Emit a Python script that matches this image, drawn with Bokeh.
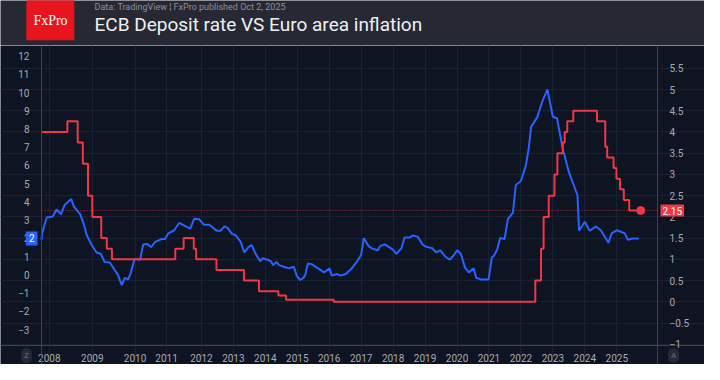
import numpy as np
from bokeh.plotting import figure
from bokeh.models import (Range1d, LinearAxis, FixedTicker, Label,
                          CustomJSTickFormatter)
from bokeh.layouts import column
from bokeh.core.properties import value
from bokeh.embed import file_html
from bokeh.resources import INLINE

# ---------------- texts ----------------
TITLE = "ECB Deposit rate VS Euro area inflation"
SUBTITLE = "Data: TradingView  \u00a6  FxPro published Oct 2,  2025"
LOGO = "FxPro"

# ---------------- time scale ----------------
years = list(range(2008, 2026))
# TradingView index-based time scale: relative width of each calendar year
year_widths = [1.345, 1.337, 0.988, 1.091] + [1.0] * 14
view_start, view_end = 2007.818, 2026.275

# ---------------- Euro area inflation (left axis, %) ----------------
infl_dates = [
    2007.818, 2007.83, 2007.94,
    2008.08, 2008.17, 2008.27, 2008.36, 2008.51, 2008.57, 2008.72, 2008.80, 2008.87, 2008.98,
    2009.10, 2009.20, 2009.29, 2009.41, 2009.52, 2009.60, 2009.69, 2009.76, 2009.84, 2009.90, 2009.99,
    2010.16, 2010.26, 2010.38, 2010.51, 2010.64, 2010.85, 2010.95,
    2011.05, 2011.22, 2011.36, 2011.47, 2011.68, 2011.79, 2011.93,
    2012.08, 2012.24, 2012.34, 2012.47, 2012.60, 2012.72, 2012.82, 2012.96,
    2013.06, 2013.23, 2013.34, 2013.46, 2013.57, 2013.69, 2013.84, 2013.92,
    2014.07, 2014.17, 2014.25, 2014.35, 2014.43, 2014.58, 2014.73, 2014.89, 2014.99,
    2015.09, 2015.19, 2015.25, 2015.33, 2015.45, 2015.65, 2015.84,
    2016.01, 2016.08, 2016.24, 2016.36, 2016.52, 2016.69, 2016.87,
    2017.00, 2017.08, 2017.23, 2017.35, 2017.52, 2017.59, 2017.74, 2017.90,
    2018.00, 2018.10, 2018.26, 2018.36, 2018.51, 2018.61, 2018.77, 2018.92,
    2019.02, 2019.23, 2019.35, 2019.48, 2019.63, 2019.77, 2019.89,
    2020.01, 2020.12, 2020.25, 2020.37, 2020.52, 2020.60, 2020.76, 2020.99,
    2021.09, 2021.16, 2021.26, 2021.35, 2021.49, 2021.59, 2021.75, 2021.84,
    2022.00, 2022.15, 2022.24, 2022.32, 2022.51, 2022.67, 2022.83,
    2023.00, 2023.13, 2023.31, 2023.51, 2023.66, 2023.77, 2023.82,
    2024.00, 2024.15, 2024.35, 2024.50, 2024.74, 2024.84,
    2025.01, 2025.25, 2025.35, 2025.50, 2025.69,
]
infl_values = [
    1.9, 2.28, 3.15,
    3.2, 3.59, 3.32, 3.85, 4.16, 3.76, 3.32, 2.8, 2.19, 1.67,
    1.23, 1.15, 0.71, 0.68, 0.28, 0.0, -0.56, -0.16, -0.25, 0.1, 0.88,
    0.83, 1.67, 1.7, 1.53, 1.81, 1.97, 1.97,
    2.28, 2.45, 2.85, 2.75, 2.54, 3.08, 3.06,
    2.75, 2.75, 2.63, 2.42, 2.42, 2.66, 2.58, 2.24,
    2.19, 1.81, 1.23, 1.5, 1.64, 1.18, 0.75, 0.92,
    0.83, 0.75, 0.54, 0.71, 0.54, 0.45, 0.36, 0.45, -0.07,
    -0.28, -0.16, 0.0, 0.62, 0.59, 0.36, 0.14,
    0.36, -0.04, 0.05, -0.04, 0.05, 0.33, 0.73,
    1.11, 2.02, 1.58, 1.44, 1.35, 1.58, 1.67, 1.5,
    1.37, 1.15, 1.46, 2.05, 2.05, 2.16, 2.1, 1.67,
    1.55, 1.46, 1.23, 1.35, 1.01, 0.83, 1.06,
    1.35, 1.15, 0.4, 0.14, 0.36, -0.16, -0.25, -0.25,
    0.97, 1.06, 1.41, 2.02, 1.97, 3.06, 3.41, 4.93,
    5.15, 5.97, 6.9, 8.12, 8.64, 9.51, 10.17,
    8.67, 8.59, 6.9, 5.59, 4.89, 4.37, 2.42,
    2.92, 2.42, 2.66, 2.45, 1.76, 2.28,
    2.45, 2.28, 1.93, 2.0, 2.0,
]

# ---------------- ECB rate (right axis, %) : change dates and new levels ----------------
rate_dates = [2007.818, 2008.42, 2008.66, 2008.78, 2008.90, 2009.00, 2009.21, 2009.34, 2009.46,
              2011.25, 2011.49, 2011.78, 2011.85, 2012.47, 2013.33, 2013.80, 2014.41, 2014.65,
              2016.14, 2022.45, 2022.63, 2022.71, 2022.87, 2023.05, 2023.14, 2023.31, 2023.37,
              2023.45, 2023.64, 2024.38, 2024.64, 2024.70, 2024.90, 2024.99, 2025.10, 2025.22,
              2025.39]
rate_values = [4.0, 4.25, 3.75, 3.25, 2.5, 2.0, 1.5, 1.25, 1.0,
               1.25, 1.5, 1.25, 1.0, 0.75, 0.5, 0.25, 0.15, 0.05,
               0.0, 0.5, 1.25, 2.0, 2.5, 3.0, 3.5, 3.75, 4.0,
               4.25, 4.5, 4.25, 3.65, 3.40, 3.15, 2.90, 2.65, 2.40,
               2.15]
rate_last_date = 2025.75

left_ticks = list(range(-3, 13))
right_ticks = [-1.0, -0.5, 0.0, 0.5, 1.0, 1.5, 2.0, 2.5, 3.0, 3.5, 4.0, 4.5, 5.0, 5.5]

# ---------------- style ----------------
BG = "#0e1422"
HDR = "#262934"
BLUE = "#2962ff"
RED = "#f23645"
GRID = "#1a2130"
AXIS = "#3d414d"
LBL = "#a7aab3"
FONT = "Roboto"

# ---------------- warped time scale ----------------
pos = [0.0] + list(np.cumsum(year_widths[:-1]))
knot_years = [2007] + years + [2026, 2027]
knot_pos = [-year_widths[0]] + pos + [pos[-1] + year_widths[-1], pos[-1] + 2 * year_widths[-1]]


def warp(t):
    return np.interp(np.asarray(t, dtype=float), knot_years, knot_pos)


tick_pos = [round(float(v), 4) for v in warp(years)]

# value ranges of the plotting area
L0, L1 = -3.87, 12.47
R0, R1 = -1.03, 5.99

# figure geometry (px): plotting area inside a frame that also holds the price/time scales
FIG_W, FIG_H = 704, 319
PAD_L, PAD_R, PAD_T, PAD_B = 41, 47, 2, 19
AREA_W, AREA_H = FIG_W - PAD_L - PAD_R, FIG_H - PAD_T - PAD_B

x_lo, x_hi = float(warp(view_start)), float(warp(view_end))
ux = (x_hi - x_lo) / AREA_W
uy = (L1 - L0) / AREA_H
ur = (R1 - R0) / AREA_H

p = figure(width=FIG_W, height=FIG_H,
           x_range=Range1d(x_lo - PAD_L * ux, x_hi + PAD_R * ux),
           y_range=Range1d(L0 - PAD_B * uy, L1 + PAD_T * uy),
           output_backend="svg", toolbar_location=None, min_border=0,
           background_fill_color=BG, border_fill_color=BG, outline_line_color=None)
p.extra_y_ranges = {"right": Range1d(R0 - PAD_B * ur, R1 + PAD_T * ur)}

# time scale
xa = p.xaxis[0]
xa.fixed_location = L0
xa.ticker = FixedTicker(ticks=tick_pos)
xa.formatter = CustomJSTickFormatter(args=dict(pos=tick_pos, labels=[str(y) for y in years]), code="""
    for (let i = 0; i < pos.length; i++) { if (Math.abs(pos[i] - tick) < 1e-6) return labels[i]; }
    return '';
""")

# left price scale (inflation)
ya = p.yaxis[0]
ya.fixed_location = x_lo
ya.ticker = FixedTicker(ticks=left_ticks)
ya.formatter = CustomJSTickFormatter(code="""
    return tick < 0 ? '\\u2212' + String(Math.abs(tick)) : String(tick);
""")

# right price scale (ECB rate)
ra = LinearAxis(y_range_name="right", fixed_location=x_hi)
ra.ticker = FixedTicker(ticks=right_ticks)
ra.formatter = CustomJSTickFormatter(code="""
    return tick < 0 ? '\\u2212' + String(Math.abs(tick)) : String(tick);
""")
p.add_layout(ra, "right")

for ax in [xa, ya, ra]:
    ax.axis_line_color = AXIS
    ax.axis_line_width = 1
    ax.major_tick_line_color = None
    ax.minor_tick_line_color = None
    ax.major_label_text_color = LBL
    ax.major_label_text_font = FONT
    ax.major_label_text_font_size = "10px"
    ax.major_label_standoff = 6
xa.major_label_standoff = 2

p.xgrid.grid_line_color = GRID
p.xgrid.bounds = (L0, L1)
p.ygrid.grid_line_color = GRID
p.ygrid.bounds = (x_lo, x_hi)
p.ygrid.ticker = FixedTicker(ticks=[L0 + (v - R0) * (L1 - L0) / (R1 - R0) for v in right_ticks])

# dotted line at the latest rate level
p.segment(x0=[x_lo], x1=[x_hi], y0=[rate_values[-1]], y1=[rate_values[-1]],
          y_range_name="right", line_color=RED, line_alpha=0.75, line_width=1, line_dash="1 2")

# series
p.line(warp(infl_dates), infl_values, line_color=BLUE, line_width=2)
p.step(warp(rate_dates + [rate_last_date]), rate_values + [rate_values[-1]], mode="after",
       y_range_name="right", line_color=RED, line_width=2)
p.scatter([float(warp(rate_last_date))], [rate_values[-1]], y_range_name="right",
          size=8, color=RED)

# last-value badges on the price scales
p.add_layout(Label(x=x_lo, y=infl_values[-1], x_offset=-4, text="%g" % infl_values[-1],
                   text_align="right", text_baseline="middle", text_color="white",
                   text_font=FONT, text_font_size="10px",
                   background_fill_color=BLUE, padding=3))
p.add_layout(Label(x=x_hi, y=rate_values[-1], x_offset=3, y_range_name="right",
                   text="%.2f" % rate_values[-1], text_align="left", text_baseline="middle",
                   text_color="white", text_font=FONT, text_font_size="10px",
                   background_fill_color=RED, padding=2))
for bx, bt in [(PAD_L - 15, "Z"), (PAD_L + AREA_W + 16, "A")]:
    p.add_layout(Label(x=bx, y=PAD_B - 10, x_units="screen", y_units="screen", text=bt,
                       text_align="center", text_baseline="middle", text_color="#6f7380",
                       text_font=FONT, text_font_size="8px",
                       background_fill_color="#262a35", padding=3, border_radius=7))

# ---------------- header ----------------
h = figure(width=FIG_W, height=45, x_range=Range1d(0, FIG_W), y_range=Range1d(0, 45),
           output_backend="svg", toolbar_location=None, min_border=0,
           x_axis_type=None, y_axis_type=None,
           background_fill_color=HDR, border_fill_color=HDR, outline_line_color=None)
h.grid.visible = False
h.quad(left=[26.4], right=[73.3], bottom=[5.7], top=[45], color="#e8161c")
h.text(x=[50], y=[25.5], text=[LOGO], text_align="center", text_baseline="middle",
       text_color="white", text_font=value("Liberation Serif"), text_font_size="14px")
h.text(x=[94], y=[38.8], text=[SUBTITLE], text_align="left", text_baseline="middle",
       text_color="#8d909a", text_font=value(FONT), text_font_size="9px")
h.text(x=[94], y=[21.5], text=[TITLE], text_align="left", text_baseline="middle",
       text_color="#eef0f3", text_font=value(FONT), text_font_size="19px")

layout = column(h, p, spacing=0)
open("out.html", "w").write(file_html(layout, INLINE))
